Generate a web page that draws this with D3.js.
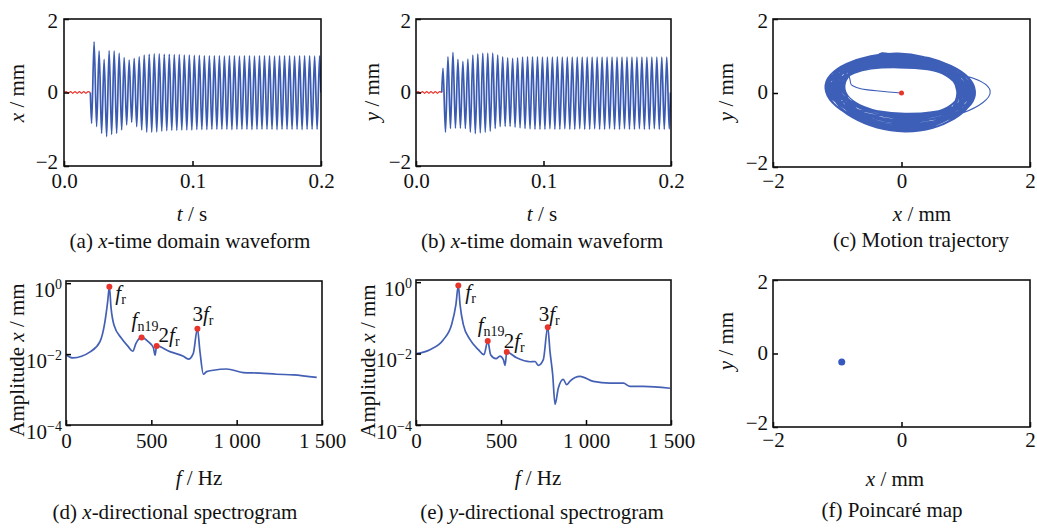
<!DOCTYPE html>
<html>
<head>
<meta charset="utf-8">
<script src="https://cdn.jsdelivr.net/npm/d3@7"></script>
<style>
  body { margin: 0; background: #fff; }
  svg text { font-family: "Liberation Serif", "Times New Roman", serif; font-size: 21px; fill: #111; white-space: pre; }
</style>
</head>
<body>
<div id="chart"></div>
<script>
// ---- tick values / labels
const timeTicks = [0, 0.1, 0.2];
const timeTickLabels = ["0.0", "0.1", "0.2"];
const dispTicks = [-2, 0, 2];
const dispTickLabels = ["\u22122", "0", "2"];
const freqTicks = [0, 500, 1000, 1500];
const freqTickLabels = ["0", "500", "1 000", "1 500"];
const ampTicks = [1e-4, 1e-2, 1];
const ampTickLabels = ["10^{\u22124}", "10^{\u22122}", "10^{0}"];

// ---- time domain waveforms (extremes of every cycle, mm)
const waveOnsetX = 0.0205;
const waveOnsetY = 0.0202;
const wavePeriod = 0.0039;
const rippleX = [0, 0.025, -0.02, 0.025, -0.02, 0.025, -0.02, 0.025, -0.02, 0.025, -0.02, 0.025, 0];
const rippleY = [0, 0.025, -0.02, 0.025, -0.02, 0.025, -0.02, 0.025, -0.02, 0.025, -0.02, 0.025, 0];
const xTroughs = [-0.84, -0.93, -1.11, -1.20, -1.14, -1.11, -1.02, -0.88, -0.81, -0.93,
  -1.02, -1.08, -1.08, -1.07, -1.05, -1.04, -1.03, -1.03, -1.02, -1.02,
  -1.02, -1.01, -1.01, -1.01, -1.00, -1.00, -1.00, -1.00, -1.01, -1.00,
  -1.00, -1.00, -1.01, -1.00, -1.00, -1.00, -1.00, -1.01, -1.00, -1.00,
  -1.00, -1.00, -1.01, -1.00, -1.00, -1.00];
const xPeaks = [1.38, 1.13, 0.90, 1.14, 1.13, 1.07, 0.95, 0.88, 0.93, 0.97,
  1.02, 1.04, 1.05, 1.05, 1.04, 1.04, 1.03, 1.03, 1.02, 1.02,
  1.01, 1.01, 1.00, 1.00, 1.00, 1.00, 0.99, 1.00, 1.00, 0.99,
  1.00, 1.00, 0.99, 1.00, 1.00, 1.00, 0.99, 1.00, 1.00, 1.00,
  0.99, 1.00, 1.00, 1.00, 0.99, 1.00];
const yPeaks = [0.66, 0.97, 1.09, 0.90, 0.85, 0.91, 1.02, 1.05, 1.07, 1.07,
  1.07, 1.02, 0.97, 0.94, 0.93, 0.94, 0.96, 0.97, 0.97, 0.97,
  0.96, 0.96, 0.96, 0.97, 0.96, 0.96, 0.96, 0.96, 0.96, 0.96,
  0.96, 0.96, 0.96, 0.96, 0.96, 0.96, 0.96, 0.96, 0.96, 0.96,
  0.96, 0.96, 0.96, 0.96, 0.96, 0.96];
const yTroughs = [-1.08, -0.98, -0.97, -0.97, -0.98, -1.08, -1.12, -1.10, -1.08, -1.05,
  -0.98, -0.93, -0.92, -0.92, -0.94, -0.96, -0.98, -0.99, -1.00, -1.00,
  -1.00, -0.99, -1.00, -1.00, -0.99, -1.00, -1.00, -0.99, -1.00, -1.00,
  -0.99, -1.00, -1.00, -0.99, -1.00, -1.00, -0.99, -1.00, -1.00, -0.99,
  -1.00, -1.00, -0.99, -1.00, -1.00, -0.99];

// ---- motion trajectory (mm): start path, then one loop per row (top, right, bottom, left)
const trajStartX = [0, -0.39, -0.70, -0.80, -0.75, -0.48];
const trajStartY = [0, 0.06, 0.15, 0.35, 0.58, 0.86];
const loopTop = [1.00, 0.78, 1.06, 0.92, 0.72, 1.03, 0.86, 0.98, 1.07, 0.75,
  0.95, 1.02, 0.82, 1.05, 0.90, 0.70, 1.00, 0.96, 1.08, 0.80,
  0.93, 1.04, 0.68, 0.88, 1.01, 0.76, 0.97, 1.06, 0.84, 0.94,
  1.03, 0.74, 0.99, 0.89, 1.05, 0.79, 0.96, 1.02, 0.87, 0.73,
  1.00, 0.91, 1.04, 0.85];
const loopRight = [1.10, 0.88, 1.05, 0.95, 1.14, 0.90, 1.08, 1.00, 0.86, 1.12,
  0.97, 1.06, 0.92, 1.15, 1.02, 0.89, 1.09, 0.95, 1.04, 0.87,
  1.11, 0.99, 1.38, 0.93, 1.07, 0.90, 1.13, 1.01, 0.88, 1.06,
  0.96, 1.12, 0.91, 1.03, 1.09, 0.86, 1.00, 1.14, 0.94, 1.05,
  0.89, 1.10, 0.98, 1.02];
const loopBottom = [-0.95, -0.62, -1.02, -0.80, -1.05, -0.58, -0.90, -0.99, -0.70, -1.04,
  -0.85, -0.66, -1.00, -0.93, -0.55, -1.03, -0.78, -0.97, -0.68, -1.05,
  -0.88, -0.60, -0.82, -1.01, -0.74, -0.96, -1.04, -0.64, -0.91, -0.99,
  -0.57, -0.86, -1.03, -0.72, -0.94, -1.00, -0.63, -0.89, -1.05, -0.76,
  -0.98, -0.67, -0.92, -1.01];
const loopLeft = [-1.10, -0.90, -1.17, -1.00, -1.15, -0.88, -1.12, -1.19, -0.95, -1.06,
  -1.14, -0.92, -1.18, -1.02, -1.09, -0.89, -1.16, -1.04, -0.97, -1.13,
  -1.19, -0.93, -0.88, -1.08, -1.15, -0.99, -1.11, -1.17, -0.91, -1.05,
  -1.14, -0.96, -1.18, -1.01, -1.10, -0.94, -1.16, -1.07, -0.90, -1.12,
  -1.03, -1.17, -0.98, -1.09];

// ---- spectra
const specXFreq = [4, 41, 141, 199, 228, 244, 254, 264, 281, 326, 365, 391, 410, 443, 482, 512, 522, 531,
  609, 688, 717, 746, 770, 785, 805, 824, 863, 941, 1039, 1137, 1234, 1332, 1469];
const specXAmp = [0.0093, 0.0078, 0.0115, 0.0224, 0.081, 0.295, 0.79, 0.20, 0.066, 0.0275, 0.0162, 0.012, 0.020,
  0.0295, 0.0224, 0.0151, 0.0093, 0.017, 0.0117, 0.0087, 0.0072, 0.0105, 0.052, 0.0117, 0.0027,
  0.0032, 0.0035, 0.0038, 0.0030, 0.0029, 0.0027, 0.0026, 0.0022];
const specYFreq = [4, 82, 161, 210, 235, 249, 259, 278, 318, 367, 400, 422, 439, 471, 494, 514, 524, 534,
  592, 671, 700, 719, 749, 775, 788, 804, 818, 837, 866, 886, 906, 965, 1043, 1141, 1220, 1259, 1337, 1494];
const specYAmp = [0.010, 0.0129, 0.0245, 0.066, 0.24, 0.81, 0.24, 0.066, 0.0245, 0.0129, 0.0093, 0.0224,
  0.0093, 0.0072, 0.0085, 0.0068, 0.0047, 0.011, 0.0076, 0.0059, 0.006, 0.0047, 0.0068, 0.055,
  0.0117, 0.0026, 0.00038, 0.00107, 0.0019, 0.00135, 0.0017, 0.0023, 0.00166, 0.00148, 0.00148,
  0.0012, 0.0012, 0.00107];
const peakNames = ["*f*_{r}", "*f*_{n19}", "2*f*_{r}", "3*f*_{r}"];
const peakXFreq = [254, 443, 531, 770];
const peakXAmp = [0.79, 0.0295, 0.017, 0.052];
const peakYFreq = [249, 422, 534, 775];
const peakYAmp = [0.81, 0.0224, 0.011, 0.055];

// ---- Poincaré map
const poincareX = [-0.93];
const poincareY = [-0.23];

// ---- layout (pixels)
const layout = {
  a: { x0: 64, x1: 321, y0: 19, y1: 166, xPad: 7, yPad: 6, yTitle: [17, 93], xTitle: [192, 221], caption: [190, 248] },
  b: { x0: 416, x1: 671, y0: 19, y1: 166, xPad: 7, yPad: 5, yTitle: [372, 92], xTitle: [542, 221], caption: [542, 248] },
  c: { x0: 773, x1: 1030, y0: 19, y1: 167, xPad: 6, yPad: 5, yTitle: [726, 92], xTitle: [922, 221], caption: [921, 247] },
  d: { x0: 66, x1: 322, y0: 281, y1: 425, xPad: 8, yPad: 4, yTitle: [17, 360], xTitle: [199, 485], caption: [175, 519] },
  e: { x0: 416, x1: 671, y0: 280, y1: 425, xPad: 8, yPad: 4, yTitle: [368, 361], xTitle: [538, 485], caption: [542, 519] },
  f: { x0: 773, x1: 1030, y0: 280, y1: 427, xPad: 5, yPad: 5, yTitle: [726, 341], xTitle: [895, 486], caption: [892, 517] }
};
const dispLabelDy = ["0.1em", "0.27em", "0.42em"];
const labelOffX = [[6, 13], [-10, -10], [2, -4], [-5, -8]];
const labelOffY = [[7, 14], [-10, -9], [-3, -4], [-9, -6]];

const blue = "#3b5bb2";
const red = "#e8352c";

const svg = d3.select("#chart").append("svg").attr("width", 1037).attr("height", 528);

// *italic*, _{sub}, ^{sup}
function rich(sel, str) {
  const re = /\*([^*]+)\*|_\{([^}]*)\}|\^\{([^}]*)\}|([^*_^]+)/g;
  let m, shift = 0;
  while ((m = re.exec(str))) {
    let txt = m[4], kind = "n";
    if (m[1] !== undefined) { txt = m[1]; kind = "i"; }
    else if (m[2] !== undefined) { txt = m[2]; kind = "sub"; }
    else if (m[3] !== undefined) { txt = m[3]; kind = "sup"; }
    const ts = sel.append("tspan").text(txt);
    const target = kind === "sub" ? 4 : kind === "sup" ? -8 : 0;
    if (target !== shift) { ts.attr("dy", target - shift); shift = target; }
    if (kind === "i") ts.style("font-style", "italic");
    if (kind === "sub" || kind === "sup") ts.style("font-size", "14px");
  }
}

function panel(key, opt) {
  const p = layout[key];
  const g = svg.append("g");
  const xs = opt.x.range([p.x0, p.x1]);
  const ys = opt.y.range([p.y1, p.y0]);

  g.append("clipPath").attr("id", "clip-" + key).append("rect")
    .attr("x", p.x0).attr("y", p.y0).attr("width", p.x1 - p.x0).attr("height", p.y1 - p.y0);
  const plot = g.append("g").attr("clip-path", `url(#clip-${key})`);

  const xa = g.append("g").attr("transform", `translate(0,${p.y1})`)
    .call(d3.axisBottom(xs).tickValues(opt.xTicks).tickFormat("").tickSizeInner(-5).tickSizeOuter(0).tickPadding(p.xPad));
  xa.select(".domain").remove();
  xa.selectAll(".tick text").each(function (d, i) { rich(d3.select(this), opt.xLabels[i]); });

  const ya = g.append("g").attr("transform", `translate(${p.x0},0)`)
    .call(d3.axisLeft(ys).tickValues(opt.yTicks).tickFormat("").tickSizeInner(-5).tickSizeOuter(0).tickPadding(p.yPad));
  ya.select(".domain").remove();
  ya.selectAll(".tick text").each(function (d, i) {
    const t = d3.select(this);
    t.attr("dy", opt.logLabels ? "0.62em" : dispLabelDy[i]);
    rich(t, opt.yLabels[i]);
  });
  g.selectAll(".tick line").attr("stroke-width", 1.5);

  g.append("text").attr("transform", `translate(${p.yTitle[0]},${p.yTitle[1]}) rotate(-90)`)
    .attr("text-anchor", "middle").attr("dy", "0.35em").call(s => rich(s, opt.yTitle));
  g.append("text").attr("x", p.xTitle[0]).attr("y", p.xTitle[1])
    .attr("text-anchor", "middle").call(s => rich(s, opt.xTitle));
  g.append("text").attr("x", p.caption[0]).attr("y", p.caption[1])
    .attr("text-anchor", "middle").call(s => rich(s, opt.caption));

  return { g, plot, xs, ys, frame: () => g.append("rect")
    .attr("x", p.x0).attr("y", p.y0).attr("width", p.x1 - p.x0).attr("height", p.y1 - p.y0)
    .attr("fill", "none").attr("stroke", "#111").attr("stroke-width", 1.6) };
}

function waveSeries(onset, first, second) {
  const pts = [[onset, 0]];
  first.forEach((v, i) => {
    pts.push([onset + wavePeriod * (i + 0.25), v]);
    pts.push([onset + wavePeriod * (i + 0.75), second[i]]);
  });
  pts.push([onset + wavePeriod * first.length, 0]);
  return pts;
}

function rippleSeries(onset, vals) {
  return vals.map((v, i) => [onset * i / (vals.length - 1), v]);
}

function drawWave(key, yName, caption, ripple, onset, first, second) {
  const P = panel(key, {
    x: d3.scaleLinear().domain([0, 0.2]), y: d3.scaleLinear().domain([-2, 2]),
    xTicks: timeTicks, xLabels: timeTickLabels, yTicks: dispTicks, yLabels: dispTickLabels,
    yTitle: `*${yName}* / mm`, xTitle: "*t* / s", caption: caption
  });
  const line = d3.line().x(d => P.xs(d[0])).y(d => P.ys(d[1])).curve(d3.curveMonotoneX);
  P.plot.append("path").attr("d", line(rippleSeries(onset, ripple)))
    .attr("fill", "none").attr("stroke", red).attr("stroke-width", 1.3);
  P.plot.append("path").attr("d", line(waveSeries(onset, first, second)))
    .attr("fill", "none").attr("stroke", blue).attr("stroke-width", 1.7);
  P.frame();
}

drawWave("a", "x", "(a) *x*-time domain waveform", rippleX, waveOnsetX, xTroughs, xPeaks);
drawWave("b", "y", "(b) *x*-time domain waveform", rippleY, waveOnsetY, yPeaks, yTroughs);

// (c) trajectory
(function () {
  const P = panel("c", {
    x: d3.scaleLinear().domain([-2, 2]), y: d3.scaleLinear().domain([-2, 2]),
    xTicks: dispTicks, xLabels: dispTickLabels, yTicks: dispTicks, yLabels: dispTickLabels,
    yTitle: "*y* / mm", xTitle: "*x* / mm", caption: "(c) Motion trajectory"
  });
  const pts = trajStartX.map((x, i) => [x, trajStartY[i]]);
  loopTop.forEach((t, i) => {
    pts.push([-0.05, t]);
    pts.push([loopRight[i], 0.05]);
    pts.push([0.05, loopBottom[i]]);
    pts.push([loopLeft[i], 0.12]);
  });
  const line = d3.line().x(d => P.xs(d[0])).y(d => P.ys(d[1])).curve(d3.curveCardinal.tension(-0.6));
  P.plot.append("path").attr("d", line(pts))
    .attr("fill", "none").attr("stroke", "#3d5fb8").attr("stroke-width", 1.1);
  P.plot.append("circle").attr("cx", P.xs(trajStartX[0])).attr("cy", P.ys(trajStartY[0]))
    .attr("r", 2.5).attr("fill", red);
  P.frame();
})();

function drawSpec(key, caption, freq, amp, pf, pa, offs) {
  const P = panel(key, {
    x: d3.scaleLinear().domain([0, 1500]), y: d3.scaleLog().domain([1e-4, 1.15]),
    xTicks: freqTicks, xLabels: freqTickLabels, yTicks: ampTicks, yLabels: ampTickLabels, logLabels: true,
    yTitle: "Amplitude *x* / mm", xTitle: "*f* / Hz", caption: caption
  });
  const line = d3.line().x((d, i) => P.xs(freq[i])).y(d => P.ys(d)).curve(d3.curveMonotoneX);
  P.plot.append("path").attr("d", line(amp))
    .attr("fill", "none").attr("stroke", "#4460b4").attr("stroke-width", 1.7);
  P.frame();
  pf.forEach((f, i) => {
    P.g.append("circle").attr("cx", P.xs(f)).attr("cy", P.ys(pa[i])).attr("r", 3).attr("fill", red);
    P.g.append("text").attr("x", P.xs(f) + offs[i][0]).attr("y", P.ys(pa[i]) + offs[i][1])
      .call(s => rich(s, peakNames[i]));
  });
}

drawSpec("d", "(d) *x*-directional spectrogram", specXFreq, specXAmp, peakXFreq, peakXAmp, labelOffX);
drawSpec("e", "(e) *y*-directional spectrogram", specYFreq, specYAmp, peakYFreq, peakYAmp, labelOffY);

// (f) Poincaré map
(function () {
  const P = panel("f", {
    x: d3.scaleLinear().domain([-2, 2]), y: d3.scaleLinear().domain([-2, 2]),
    xTicks: dispTicks, xLabels: dispTickLabels, yTicks: dispTicks, yLabels: dispTickLabels,
    yTitle: "*y* / mm", xTitle: "*x* / mm", caption: "(f) Poincaré map"
  });
  P.plot.selectAll("circle").data(poincareX).join("circle")
    .attr("cx", d => P.xs(d)).attr("cy", (d, i) => P.ys(poincareY[i]))
    .attr("r", 3.5).attr("fill", "#3558c0");
  P.frame();
})();
</script>
</body>
</html>
